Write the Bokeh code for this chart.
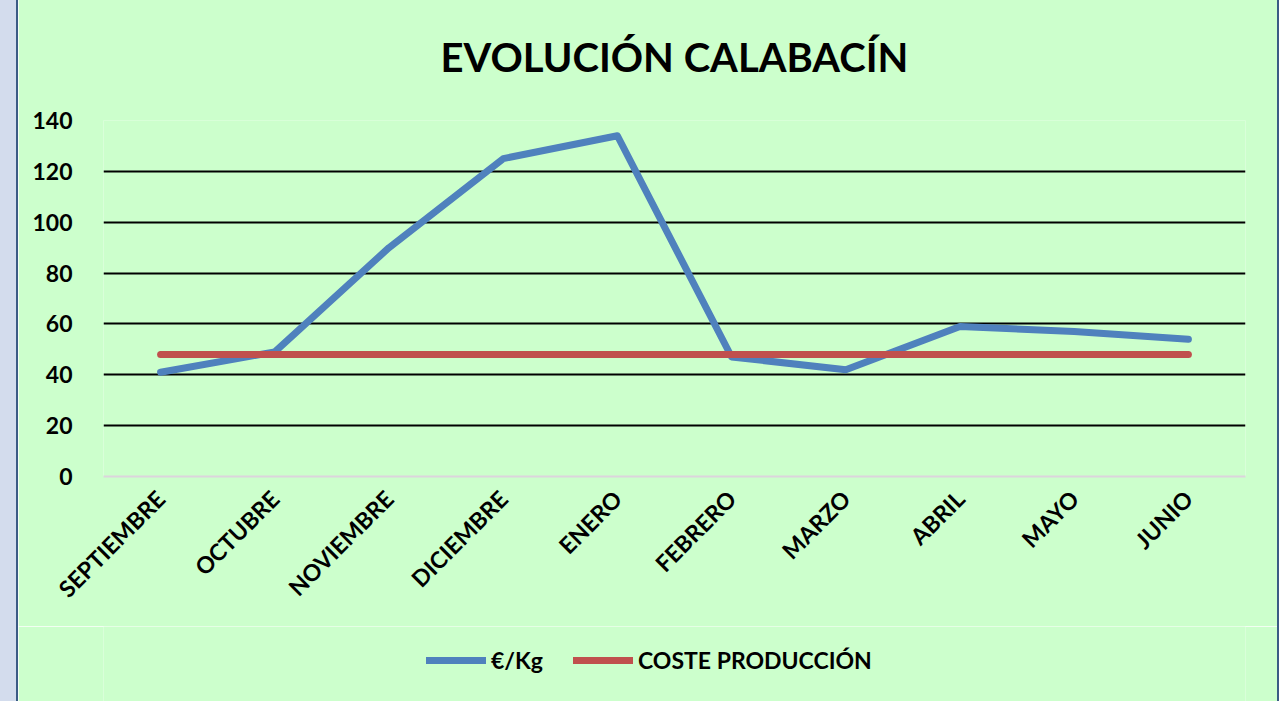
import math
from bokeh.plotting import figure
from bokeh.models import Legend, LegendItem, FixedTicker, ColumnDataSource
from bokeh.layouts import column
from bokeh.embed import file_html
from bokeh.resources import INLINE

meses = ["SEPTIEMBRE", "OCTUBRE", "NOVIEMBRE", "DICIEMBRE", "ENERO",
         "FEBRERO", "MARZO", "ABRIL", "MAYO", "JUNIO"]
precio_kg = [41, 49, 90, 125, 134, 47, 42, 59, 57, 54]
coste_produccion = [48, 48, 48, 48, 48, 48, 48, 48, 48, 48]
y_ticks = [0, 20, 40, 60, 80, 100, 120, 140]

FONT = "Lato"
BG = "#CCFFCC"
BLUE = "#4F81BD"
RED = "#C0504D"

src = ColumnDataSource(dict(mes=meses, precio=precio_kg, coste=coste_produccion))

# ---------------- main chart ----------------
p = figure(x_range=meses, y_range=(0, 140), frame_width=1142, frame_height=356,
           output_backend="svg", toolbar_location=None,
           title="EVOLUCIÓN CALABACÍN",
           min_border_left=85, min_border_right=32, min_border_top=110, min_border_bottom=150)

p.background_fill_color = BG
p.border_fill_color = BG
p.outline_line_color = None

p.title.align = "center"
p.title.text_font = FONT
p.title.text_font_style = "bold"
p.title.text_font_size = "40px"
p.title.text_color = "black"
p.title.standoff = 79

p.xgrid.grid_line_color = None
p.ygrid.ticker = FixedTicker(ticks=y_ticks[1:])
p.ygrid.grid_line_color = "black"
p.ygrid.grid_line_width = 2

p.yaxis.ticker = FixedTicker(ticks=y_ticks)
p.yaxis.axis_line_color = None
p.yaxis.major_tick_line_color = None
p.yaxis.minor_tick_line_color = None
p.yaxis.major_label_text_font = FONT
p.yaxis.major_label_text_font_style = "bold"
p.yaxis.major_label_text_font_size = "23px"
p.yaxis.major_label_text_color = "black"
p.yaxis.major_label_standoff = 25

p.xaxis.axis_line_color = "#DCD4DC"
p.xaxis.axis_line_width = 2
p.xaxis.major_tick_line_color = None
p.xaxis.minor_tick_line_color = None
p.xaxis.major_label_orientation = math.pi / 4
p.xaxis.major_label_text_font = FONT
p.xaxis.major_label_text_font_style = "bold"
p.xaxis.major_label_text_font_size = "23px"
p.xaxis.major_label_text_color = "black"
p.xaxis.major_label_standoff = 12

p.line("mes", "precio", source=src, line_color=BLUE, line_width=7,
       line_cap="round", line_join="round")
p.line("mes", "coste", source=src, line_color=RED, line_width=7,
       line_cap="round", line_join="round")

p.margin = (-9, 0, 0, 18)
p.styles = {"box-shadow": "-2px 0 0 0 #3B5B85, 2px 0 0 0 #3B5B85, -18px 0 0 0 #d3dced"}

# ---------------- legend strip ----------------
q = figure(x_range=meses, y_range=(0, 140), width=1259, height=75,
           output_backend="svg", toolbar_location=None,
           min_border_left=0, min_border_right=0, min_border_top=0, min_border_bottom=0)
q.background_fill_color = BG
q.border_fill_color = BG
q.outline_line_color = None
q.axis.visible = False
q.grid.visible = False

l1 = q.line("mes", "precio", source=src, line_color=BLUE, line_width=7,
            line_cap="round", line_join="round", visible=False)
l2 = q.line("mes", "coste", source=src, line_color=RED, line_width=7,
            line_cap="round", line_join="round", visible=False)

legend = Legend(items=[LegendItem(label="€/Kg", renderers=[l1]),
                       LegendItem(label="COSTE PRODUCCIÓN", renderers=[l2])],
                orientation="horizontal", location=(323, 27))
legend.label_text_font = FONT
legend.label_text_font_style = "bold"
legend.label_text_font_size = "23px"
legend.label_text_color = "black"
legend.glyph_width = 60
legend.label_standoff = 5
legend.spacing = 30
legend.padding = 0
legend.margin = 0
legend.background_fill_alpha = 0
legend.border_line_color = None
legend.inactive_fill_alpha = 0
q.add_layout(legend, "center")

q.margin = (0, 0, 0, 18)
q.styles = {"box-shadow": "-2px 0 0 0 #3B5B85, 2px 0 0 0 #3B5B85, -18px 0 0 0 #d3dced"}

layout = column(p, q, spacing=0)

open("out.html", "w").write(file_html(layout, INLINE))
